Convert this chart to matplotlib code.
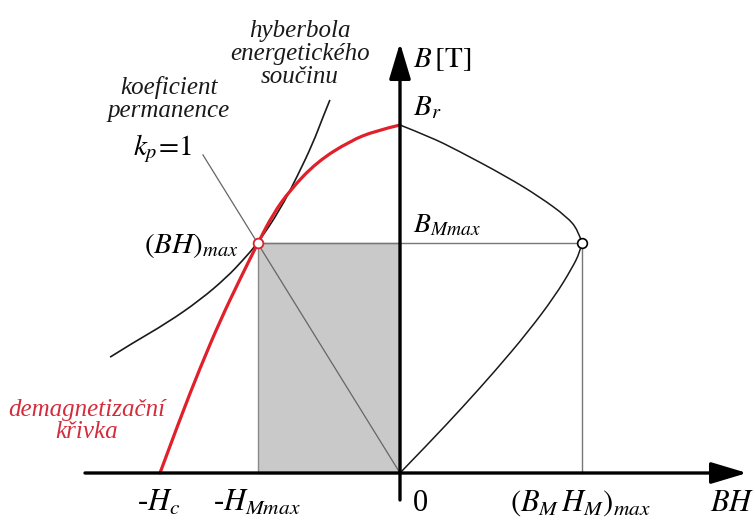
import numpy as np
import matplotlib
matplotlib.use('Agg')
import matplotlib.pyplot as plt
from matplotlib.path import Path
from matplotlib.patches import PathPatch, Rectangle

plt.rcParams['font.family'] = ['Liberation Serif', 'DejaVu Serif']
plt.rcParams['mathtext.fontset'] = 'stix'

# demagnetizacni krivka B(H), H in units of Hc, B in units of Br
demag_h = [-1.0, -0.917, -0.833, -0.75, -0.667, -0.592, -0.529, -0.458, -0.346, -0.208, -0.104, 0.0]
demag_b = [0.0, 0.155, 0.302, 0.437, 0.557, 0.661, 0.744, 0.813, 0.894, 0.954, 0.983, 1.0]

# hyperbola energetickeho soucinu
hyp_h = [-1.208, -1.113, -0.971, -0.833, -0.721, -0.654, -0.592, -0.50, -0.429, -0.3625, -0.321, -0.292]
hyp_b = [0.333, 0.374, 0.431, 0.497, 0.563, 0.612, 0.661, 0.756, 0.851, 0.948, 1.023, 1.072]

# energeticky soucin BH v zavislosti na B (prava polorovina)
bh_up = [0.0, 0.125, 0.2375, 0.446, 0.583, 0.696, 0.742, 0.758]
bh_up_b = [1.0, 0.966, 0.928, 0.851, 0.793, 0.736, 0.698, 0.661]
bh_low = [0.758, 0.75, 0.717, 0.646, 0.533, 0.396, 0.258, 0.125, 0.0]
bh_low_b = [0.661, 0.635, 0.589, 0.509, 0.405, 0.293, 0.187, 0.089, 0.0]

# primka kp=1
kp_h = [-0.821, 0.0]
kp_b = [0.914, 0.0]

h_mmax = -0.592
b_mmax = 0.661
bh_max = 0.758

red = '#e0202a'
red_txt = '#d42c3c'
ink = '#1a1a1a'


def smooth_path(xs, ys):
    pts = list(zip(xs, ys))
    verts = [pts[0]]
    codes = [Path.MOVETO]
    for i in range(1, len(pts) - 1):
        mid = ((pts[i][0] + pts[i + 1][0]) / 2, (pts[i][1] + pts[i + 1][1]) / 2)
        if i == len(pts) - 2:
            mid = pts[-1]
        verts += [pts[i], mid]
        codes += [Path.CURVE3, Path.CURVE3]
    return Path(verts, codes)


def px(x, y):
    return (x - 400) / 240.0, (473 - y) / 348.0


fig = plt.figure(figsize=(7.55, 5.23), dpi=100)
ax = fig.add_axes([0, 0, 1, 1])
ax.set_xlim(px(0, 0)[0], px(755, 0)[0])
ax.set_ylim(px(0, 523)[1], px(0, 0)[1])
ax.axis('off')

# plocha (BH)max
ax.add_patch(Rectangle((h_mmax, 0), -h_mmax, b_mmax, facecolor='#c9c9c9',
                       edgecolor='#8a8a8a', lw=1.0, zorder=1))
ax.plot([h_mmax, bh_max], [b_mmax, b_mmax], color='#777777', lw=1.0, zorder=2)
ax.plot([bh_max, bh_max], [0, b_mmax], color='#777777', lw=1.0, zorder=2)
ax.plot(kp_h, kp_b, color='#666666', lw=0.9, zorder=2)

ax.add_patch(PathPatch(smooth_path(hyp_h, hyp_b), fill=False, edgecolor=ink, lw=1.2, zorder=3))
ax.add_patch(PathPatch(smooth_path(bh_up, bh_up_b), fill=False, edgecolor=ink, lw=1.1, zorder=3))
ax.add_patch(PathPatch(smooth_path(bh_low, bh_low_b), fill=False, edgecolor=ink, lw=1.1, zorder=3))
ax.add_patch(PathPatch(smooth_path(demag_h, demag_b), fill=False, edgecolor=red, lw=2.3,
                       capstyle='round', zorder=4))

# osy
arrow = dict(arrowstyle='-|>,head_length=1.1,head_width=0.33', mutation_scale=20,
             lw=2.4, color='black', shrinkA=0, shrinkB=0)
ax.annotate('', xy=px(747, 473), xytext=px(85, 473), arrowprops=arrow, zorder=5)
ax.annotate('', xy=px(400, 43), xytext=px(400, 500), arrowprops=arrow, zorder=5)

ax.plot([h_mmax], [b_mmax], 'o', ms=7, mfc='white', mec=red, mew=1.3, zorder=6)
ax.plot([bh_max], [b_mmax], 'o', ms=7, mfc='white', mec='black', mew=1.2, zorder=6)

# popisky
ax.text(*px(413, 60), r'$B\,[\mathrm{T}]$', fontsize=21, ha='left', va='center')
ax.text(*px(413, 115), r'$B_r$', fontsize=21, ha='left', va='baseline')
ax.text(*px(413, 232), r'$B_{Mmax}$', fontsize=20, ha='left', va='baseline')
ax.text(*px(144, 253), r'$(BH)_{max}$', fontsize=21, ha='left', va='baseline')
ax.text(*px(133, 155), r'$k_p\!=\!\mathit{1}$', fontsize=21, ha='left', va='baseline')
ax.text(*px(169, 99), 'koeficient\npermanence', fontsize=18, style='italic',
        ha='center', va='center', linespacing=1.05, color=ink)
ax.text(*px(300, 54), 'hyberbola\nenergetického\nsoučinu', fontsize=18, style='italic',
        ha='center', va='center', linespacing=1.05, color=ink)
ax.text(*px(87, 421), 'demagnetizační\nkřivka', fontsize=18, style='italic',
        ha='center', va='center', linespacing=1.05, color=red_txt)

ax.text(*px(137, 511), r'-$H_c$', fontsize=22, ha='left', va='baseline')
ax.text(*px(213, 511), r'-$H_{Mmax}$', fontsize=22, ha='left', va='baseline')
ax.text(*px(413, 511), '0', fontsize=22, ha='left', va='baseline')
ax.text(*px(510, 511), r'$(B_M\,H_M)_{max}$', fontsize=22, ha='left', va='baseline')
ax.text(*px(710, 511), r'$BH$', fontsize=22, ha='left', va='baseline')

fig.savefig('out.png', dpi=100)
plt.close(fig)
